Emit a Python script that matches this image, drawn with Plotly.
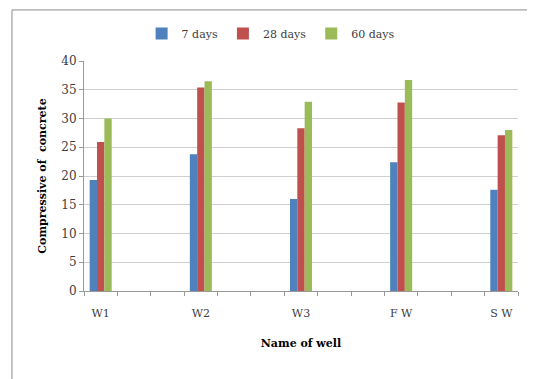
import plotly.graph_objects as go

wells = ["W1", "W2", "W3", "F W", "S W"]
days7 = [19.3, 23.8, 16.0, 22.4, 17.6]
days28 = [25.9, 35.4, 28.3, 32.8, 27.1]
days60 = [30.0, 36.5, 32.9, 36.7, 28.0]
series_names = ["7 days", "28 days", "60 days"]
colors = ["#4F81BD", "#C0504D", "#9BBB59"]
y_ticks = [0, 5, 10, 15, 20, 25, 30, 35, 40]

# Excel-style category axis: two empty categories between each well
all_cats = []
for i, w in enumerate(wells):
    all_cats.append(w)
    if i < len(wells) - 1:
        all_cats.append(" " * (2 * i + 1))
        all_cats.append(" " * (2 * i + 2))

fig = go.Figure()
for name, vals, c in zip(series_names, [days7, days28, days60], colors):
    fig.add_trace(go.Bar(x=wells, y=vals, name=name, marker_color=c,
                         marker_line_width=0))

font_family = "DejaVu Serif"
# page body has an 8px default margin, so the figure is 8px smaller and shifted
fig.update_layout(
    width=527, height=371,
    margin=dict(l=76, r=17, t=53, b=88, autoexpand=False),
    paper_bgcolor="white", plot_bgcolor="white",
    barmode="group", bargap=0.34, bargroupgap=0,
    font=dict(family=font_family, size=11, color="#404040"),
    legend=dict(orientation="h", x=0.43, xanchor="center", y=1.12, yanchor="middle",
                font=dict(size=11, color="#404040"), itemwidth=30,
                tracegroupgap=0),
    xaxis=dict(type="category", categoryorder="array", categoryarray=all_cats,
               tickson="boundaries", ticks="outside", ticklen=4, tickcolor="#999999",
               showline=True, linecolor="#999999", linewidth=1, tickangle=0,
               automargin=True, ticklabelstandoff=12,
               showgrid=False, tickfont=dict(size=11, color="#404040"),
               title=dict(text="<b>Name of well</b>", font=dict(size=11, color="black"),
                          standoff=20)),
    yaxis=dict(range=[0, 40], tickvals=y_ticks, ticks="outside", ticklen=4,
               tickcolor="#999999", showline=True, linecolor="#999999",
               gridcolor="#cfcfcf", gridwidth=1, zeroline=False, automargin=True,
               tickfont=dict(size=12, color="#404040"),
               title=dict(text="<b>Compressive of\u00a0 concrete</b>",
                          font=dict(size=11, color="black"), standoff=12)),
    shapes=[dict(type="rect", xref="paper", yref="paper",
                 x0=-0.166, x1=1.2, y0=-0.5, y1=1.222,
                 line=dict(color="#8c8c8c", width=1), layer="below")],
)

fig.write_html("out.html")
